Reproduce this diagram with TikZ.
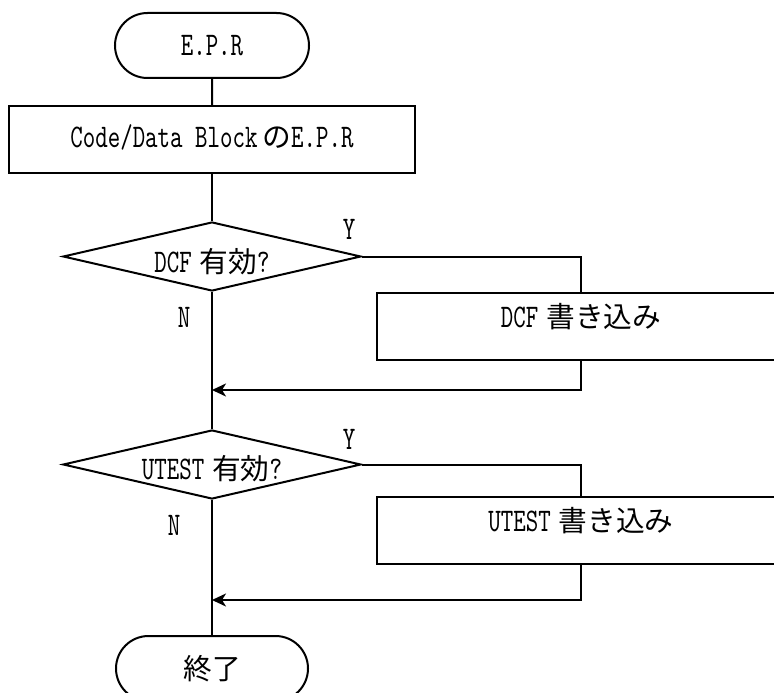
\documentclass[tikz,border=0pt]{standalone}
\usepackage{fontspec}
\newfontfamily\cjk{Noto Sans CJK JP}[Scale=0.87]
\newfontfamily\latn{lmmono10-regular.otf}[FakeStretch=0.72]
\usetikzlibrary{shapes.geometric,shapes.misc,arrows.meta}

\begin{document}
\begin{tikzpicture}[x=1pt,y=-1pt,
  line width=2pt,
  every node/.style={font=\fontsize{33}{38}\selectfont\latn, inner sep=0pt},
  term/.style={draw, rounded rectangle, minimum width=194pt, minimum height=65pt},
  proc/.style={draw, rectangle, minimum height=67pt},
  dec/.style={draw, diamond, aspect=4.32, minimum width=298pt, minimum height=69pt},
  flow/.style={-{Stealth[length=14pt,width=13pt,inset=4pt]}}
]
\useasboundingbox (0,0) rectangle (774,693);
\clip (0,0) rectangle (774,693);

% start and first process
\node[term] (start) at (212,45.5) {E.P.R};
\node[proc, minimum width=406pt] (epr) at (212,139.5) {};
\node at ([yshift=2pt]epr.center) {Code/Data Block\hspace{5pt}{\cjk の}E.P.R};

% DCF branch
\node[dec] (q1) at (212,256.5) {};
\node at ([yshift=-5pt]q1.center) {DCF\hspace{8pt}{\cjk 有効}?};
\node[proc, minimum width=408pt] (w1) at (581,326) {};
\node at ([yshift=9pt]w1.center) {DCF\hspace{8pt}{\cjk 書き込み}};
\coordinate (m1) at (212,390);
\node at (349,229) {Y};
\node at (184,317) {N};

% UTEST branch
\node[dec] (q2) at (212,464.5) {};
\node at ([yshift=-4pt]q2.center) {UTEST\hspace{8pt}{\cjk 有効}?};
\node[proc, minimum width=408pt] (w2) at (581,530) {};
\node at ([yshift=9pt]w2.center) {UTEST\hspace{8pt}{\cjk 書き込み}};
\coordinate (m2) at (212,600);
\node at (349,439) {Y};
\node at (174,525) {N};

% end
\node[term, minimum width=192pt] (stop) at (212,668.5) {\cjk 終了};

% connectors
\draw (start) -- (epr);
\draw (epr) -- (q1);
\draw (q1.east) -| (w1.north);
\draw[flow] (w1.south) |- (m1);
\draw (q1.south) -- (q2.north);
\draw (q2.east) -| (w2.north);
\draw[flow] (w2.south) |- (m2);
\draw (q2.south) -- (stop.north);
\end{tikzpicture}
\end{document}
